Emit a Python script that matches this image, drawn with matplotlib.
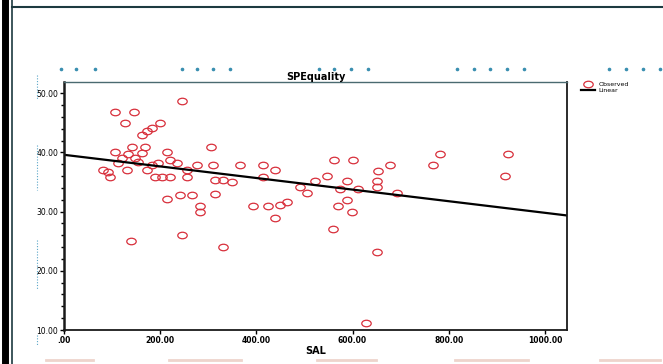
import matplotlib
matplotlib.use("Agg")
import matplotlib.pyplot as plt
import numpy as np
from matplotlib.path import Path
from matplotlib.transforms import Affine2D
from matplotlib.lines import Line2D
from matplotlib.ticker import MultipleLocator

sal = [244.7, 106.0, 145.5, 126.8, 199.6, 182.3, 173.2, 161.5, 305.6, 140.7,
       168.4, 106.0, 213.5, 120.0, 147.6, 161.5, 220.4, 196.0, 234.3, 275.9,
       310.4, 365.9, 414.3, 81.7, 130.4, 171.9, 255.1, 438.7, 95.6, 189.2,
       203.1, 220.4, 255.1, 313.9, 331.2, 348.6, 414.3, 490.6, 504.6, 213.5,
       241.2, 265.5, 313.9, 282.7, 282.7, 393.6, 424.7, 449.1, 463.0, 438.7,
       138.7, 244.7, 331.2, 561.3, 601.5, 781.7, 923.7, 547.4, 521.8, 766.5,
       916.8, 677.8, 653.4, 651.4, 651.4, 587.7, 573.8, 611.9, 691.7, 587.7,
       570.3, 598.1, 559.9, 650.1, 627.9, 112.3, 133.0, 153.8, 183.0, 91.5]
spe = [48.7, 46.8, 46.8, 44.9, 44.9, 44.2, 43.7, 42.9, 41.0, 41.0,
       41.0, 40.0, 40.0, 39.0, 39.0, 39.9, 38.7, 38.2, 38.2, 37.9,
       37.9, 37.9, 37.9, 37.0, 37.0, 37.1, 37.1, 37.0, 35.9, 35.9,
       35.9, 35.9, 35.9, 35.3, 35.3, 35.0, 35.9, 34.2, 33.1, 32.1,
       32.8, 32.8, 33.0, 30.9, 30.0, 30.9, 30.9, 31.1, 31.7, 29.0,
       25.0, 26.0, 24.1, 38.8, 38.8, 39.8, 39.8, 36.1, 35.1, 37.9,
       36.0, 37.9, 36.9, 35.1, 34.2, 35.1, 33.9, 33.9, 33.1, 32.0,
       30.9, 30.0, 27.1, 23.1, 11.2, 38.2, 39.7, 38.4, 37.9, 36.7]

# linear fit as drawn
fit_b0 = 39.6
fit_b1 = -0.0098

x_ticks = [0, 200, 400, 600, 800, 1000]
x_labels = [".00", "200.00", "400.00", "600.00", "800.00", "1000.00"]
y_ticks = [10, 20, 30, 40, 50]
y_labels = ["10.00", "20.00", "30.00", "40.00", "50.00"]

W, H = 663, 364
fig = plt.figure(figsize=(W / 100, H / 100), dpi=100)
fig.patch.set_facecolor("white")

ax = fig.add_axes([64 / W, 1 - 330 / H, 503 / W, 248 / H])
xmax, ymin, ymax = 1046, 10, 51.9
ax.set_xlim(0, xmax)
ax.set_ylim(ymin, ymax)

# ellipse marker, a bit wider than tall
oval = Path.unit_circle().transformed(Affine2D().scale(1.45, 1.0))
ax.plot(sal, spe, linestyle="none", marker=oval, markersize=6.8,
        markerfacecolor="none", markeredgecolor="#d8303c", markeredgewidth=0.9,
        label="Observed")

xx = np.array([0, xmax])
ax.plot(xx, fit_b0 + fit_b1 * xx, color="black", lw=1.6, label="Linear")

ax.set_xticks(x_ticks)
ax.set_xticklabels(x_labels, fontsize=5.5, fontweight="bold")
ax.set_yticks(y_ticks)
ax.set_yticklabels(y_labels, fontsize=5.5)
ax.yaxis.set_minor_locator(MultipleLocator(2))
ax.tick_params(axis="both", which="major", length=3, width=1, pad=1)
ax.tick_params(axis="y", which="minor", length=2, width=1)
for s in ax.spines.values():
    s.set_linewidth(1.3)
    s.set_color("#1a1a1a")
ax.spines["left"].set_linewidth(1.8)
ax.spines["top"].set_color("#4a6a70")
ax.spines["top"].set_linewidth(1.0)

ax.set_title("SPEquality", fontsize=7, fontweight="bold", pad=1)
ax.set_xlabel("SAL", fontsize=7, fontweight="bold", labelpad=1)

leg = ax.legend(loc="upper left", bbox_to_anchor=(1.02, 1.02), fontsize=4.5,
                frameon=False, handlelength=2.2, borderpad=0.2,
                labelspacing=0.1, handletextpad=0.5)

# page frame from the output viewer
fig.add_artist(Line2D([5 / W, 5 / W], [0, 1], color="black", lw=5))
fig.add_artist(Line2D([12 / W, 12 / W], [0, 1], color="#1d3a40", lw=1.2))
fig.add_artist(Line2D([12 / W, 1], [1 - 7 / H, 1 - 7 / H], color="#1d3a40", lw=1.5))

# dotted guide marks
dot_x = [61, 76, 95, 182, 197, 213, 230, 319, 334, 351, 368,
         457, 474, 490, 507, 524, 609, 626, 643, 660]
fig.add_artist(Line2D([x / W for x in dot_x], [1 - 69 / H] * len(dot_x),
                      linestyle="none", marker="o", markersize=1.6,
                      color="#3a8fb0"))
for y0, y1 in [(75, 100), (145, 190), (240, 290), (335, 345)]:
    fig.add_artist(Line2D([37 / W, 37 / W], [1 - y0 / H, 1 - y1 / H],
                          color="#5aa6c8", lw=0.8, linestyle=(0, (1, 1.5))))

# faint cut-off row at the bottom of the page
for x0, x1 in [(46, 93), (169, 241), (317, 376), (455, 528), (600, 660)]:
    fig.add_artist(Line2D([x0 / W, x1 / W], [1 - 360 / H] * 2,
                          color="#eed4cc", lw=2))

fig.savefig("out.png", dpi=100)
